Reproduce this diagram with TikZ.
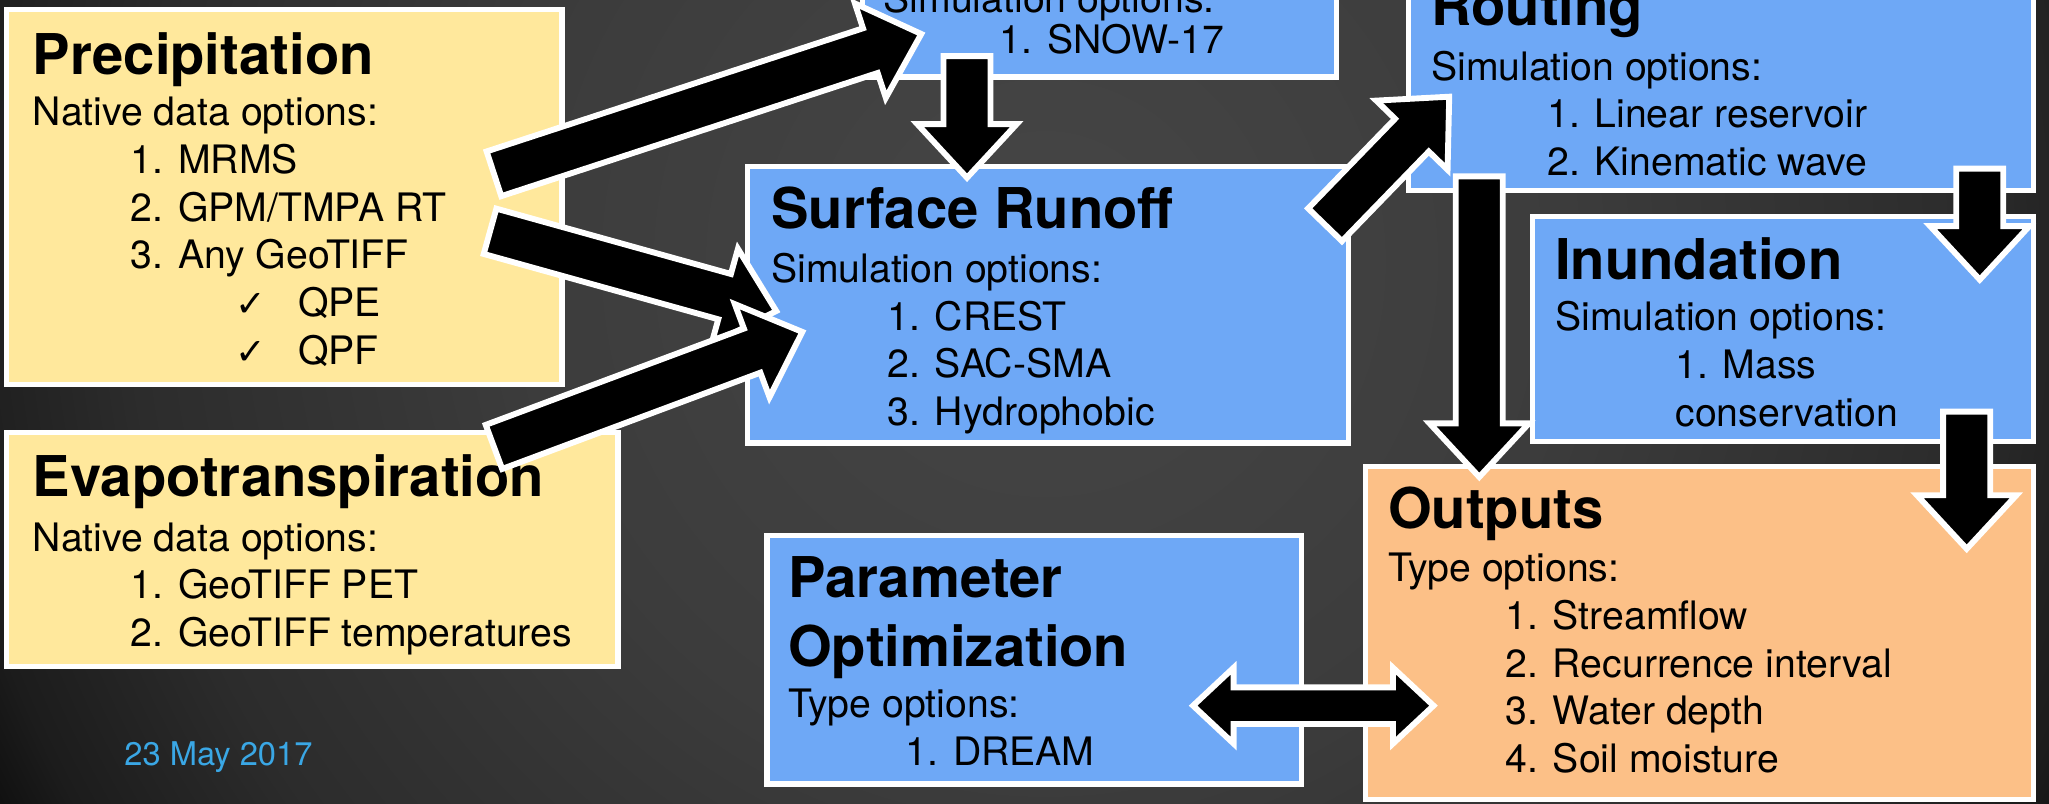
\documentclass[tikz,border=0pt]{standalone}
\usepackage{fontspec}
\setmainfont{TeX Gyre Heros}
\newfontfamily\checkfont{DejaVu Sans}
\usetikzlibrary{calc}

\definecolor{boxyellow}{HTML}{FFE89C}
\definecolor{boxblue}{HTML}{6EA8F6}
\definecolor{boxorange}{HTML}{FCC087}
\definecolor{datecol}{HTML}{3AA7E5}
\definecolor{bgin}{HTML}{464646}
\definecolor{bgmid}{HTML}{3C3C3C}
\definecolor{bgout}{HTML}{2C2C2C}
\definecolor{bgdark}{HTML}{1C1C1C}
\definecolor{bgedge}{HTML}{060606}

%% glow behind the boxes (the middle 25bp is what gets fitted to the path)
\pgfdeclareradialshading{bgglow}{\pgfpointorigin}{%
  color(0bp)=(bgin); color(10bp)=(bgmid); color(17.5bp)=(bgout);
  color(21.25bp)=(bgdark); color(23.75bp)=(bgedge); color(25bp)=(black);
  color(50bp)=(black)}

%% block arrow sizes
\newcommand*\shaftw{18pt}
\newcommand*\headw{38pt}
\newcommand*\headl{41pt}
\newcommand*\dshaftw{14pt}
\newcommand*\dheadw{29pt}
\newcommand*\dheadl{31pt}

\newcommand\ttl[1]{{\fontsize{43}{50}\selectfont\bfseries #1}}
\newcommand\chk{\makebox[48pt][l]{\checkfont\fontsize{28}{28}\selectfont ✓}}

\tikzset{
  box/.style={draw=white, line width=4pt, inner sep=0pt, outer sep=0pt,
    anchor=north west},
  ybox/.style={box, fill=boxyellow},
  bbox/.style={box, fill=boxblue},
  obox/.style={box, fill=boxorange},
  boxtext/.style={anchor=north west, inner sep=0pt, align=left,
    font=\fontsize{30}{36.5}\selectfont},
  fatarrow/.style={draw=white, line width=4.5pt, fill=black,
    to path={
      ($(\tikztostart)!\shaftw!90:(\tikztotarget)$)
      -- ($(\tikztotarget)!\headl!(\tikztostart)!\shaftw!-90:(\tikztostart)$)
      -- ($(\tikztotarget)!\headl!(\tikztostart)!\headw!-90:(\tikztostart)$)
      -- (\tikztotarget)
      -- ($(\tikztotarget)!\headl!(\tikztostart)!\headw!90:(\tikztostart)$)
      -- ($(\tikztotarget)!\headl!(\tikztostart)!\shaftw!90:(\tikztostart)$)
      -- ($(\tikztostart)!\shaftw!-90:(\tikztotarget)$) -- cycle}},
  fatdarrow/.style={draw=white, line width=4.5pt, fill=black,
    to path={
      (\tikztostart)
      -- ($(\tikztostart)!\dheadl!(\tikztotarget)!\dheadw!90:(\tikztotarget)$)
      -- ($(\tikztostart)!\dheadl!(\tikztotarget)!\dshaftw!90:(\tikztotarget)$)
      -- ($(\tikztotarget)!\dheadl!(\tikztostart)!\dshaftw!-90:(\tikztostart)$)
      -- ($(\tikztotarget)!\dheadl!(\tikztostart)!\dheadw!-90:(\tikztostart)$)
      -- (\tikztotarget)
      -- ($(\tikztotarget)!\dheadl!(\tikztostart)!\dheadw!90:(\tikztostart)$)
      -- ($(\tikztotarget)!\dheadl!(\tikztostart)!\dshaftw!90:(\tikztostart)$)
      -- ($(\tikztostart)!\dheadl!(\tikztotarget)!\dshaftw!-90:(\tikztotarget)$)
      -- ($(\tikztostart)!\dheadl!(\tikztotarget)!\dheadw!-90:(\tikztotarget)$)
      -- cycle}}
}

\begin{document}
\begin{tikzpicture}[x=1pt,y=-1pt]
  \useasboundingbox (0,0) rectangle (1568,615);

  %% background
  \begin{scope}
    \clip (0,0) rectangle (1568,615);
    \fill[black] (0,0) rectangle (1568,615);
    \shade[shading=bgglow] (800,200) circle (1000);
  \end{scope}

  %% boxes
  \node[ybox, minimum width=425pt, minimum height=287pt] (precip) at (5,7) {};
  \node[ybox, minimum width=468pt, minimum height=179pt] (evap) at (5,331) {};
  \node[bbox, minimum width=363pt, minimum height=119pt] (snow) at (660,-60) {};
  \node[bbox, minimum width=460pt, minimum height=211.5pt] (runoff) at (572,127.5) {};
  \node[bbox, minimum width=478pt, minimum height=206pt] (routing) at (1078,-60) {};
  \node[bbox, minimum width=383pt, minimum height=172.5pt] (inund) at (1173,165.5) {};
  \node[obox, minimum width=511pt, minimum height=255pt] (outputs) at (1045,357) {};
  \node[bbox, minimum width=409pt, minimum height=190pt] (param) at (587,410) {};

  %% box texts
  \node[boxtext] (precip-txt) at (25,21) {\rule{0pt}{36pt}\ttl{Precipitation}\\[2.5pt]
    Native data options:\\
    \hspace*{75pt}1. MRMS\\
    \hspace*{75pt}2. GPM/TMPA RT\\
    \hspace*{75pt}3. Any GeoTIFF\\
    \hspace*{155pt}\chk QPE\\
    \hspace*{155pt}\chk QPF};
  \node[boxtext] (evap-txt) at (25,344) {\rule{0pt}{36pt}\ttl{Evapotranspiration}\\[5pt]
    Native data options:\\
    \hspace*{75pt}1. GeoTIFF PET\\
    \hspace*{75pt}2. GeoTIFF temperatures};
  \node[boxtext] (snow-txt) at (676,-15) {\rule{0pt}{24pt}Simulation options:\\[-5pt]
    \hspace*{89pt}1. SNOW-17};
  \node[boxtext] (runoff-txt) at (590,138.5) {\rule{0pt}{36pt}\ttl{Surface Runoff}\\[5pt]
    Simulation options:\\
    \hspace*{89pt}1. CREST\\
    \hspace*{89pt}2. SAC-SMA\\
    \hspace*{89pt}3. Hydrophobic};
  \node[boxtext] (routing-txt) at (1095,-16.4) {\rule{0pt}{36pt}\ttl{Routing}\\[5pt]
    Simulation options:\\
    \hspace*{89pt}1. Linear reservoir\\
    \hspace*{89pt}2. Kinematic wave};
  \node[boxtext] (inund-txt) at (1190,178) {\rule{0pt}{36pt}\ttl{Inundation}\\[2.5pt]
    Simulation options:\\
    \hspace*{92pt}1. Mass\\
    \hspace*{92pt}conservation};
  \node[boxtext] (outputs-txt) at (1062,368) {\rule{0pt}{36pt}\ttl{Outputs}\\[4.5pt]
    Type options:\\
    \hspace*{90pt}1. Streamflow\\
    \hspace*{90pt}2. Recurrence interval\\
    \hspace*{90pt}3. Water depth\\
    \hspace*{90pt}4. Soil moisture};
  \node[boxtext] (param-txt) at (603,421) {\rule{0pt}{36pt}\ttl{Parameter}\\[16.5pt]
    \ttl{Optimization}\\[2.5pt]
    Type options:\\
    \hspace*{90pt}1. DREAM};

  %% arrow ends
  \coordinate (a1t) at (378,133);  \coordinate (a1h) at (705,26);
  \coordinate (a2t) at (375,177);  \coordinate (a2h) at (594,238);
  \coordinate (a3t) at (378,342);  \coordinate (a3h) at (614,254);
  \coordinate (a4t) at (740,43);   \coordinate (a4h) at (740,136);
  \coordinate (a5t) at (1014,172); \coordinate (a5h) at (1109,74);
  \coordinate (a6t) at (1132,135); \coordinate (a6h) at (1132,365);
  \coordinate (a7t) at (1515,129); \coordinate (a7h) at (1515,214);
  \coordinate (a8t) at (1505,315); \coordinate (a8h) at (1505,420);
  \coordinate (a9l) at (913,540);  \coordinate (a9r) at (1097,540);

  %% block arrows
  \draw[fatarrow] (a1t) to (a1h);
  \draw[fatarrow] (a2t) to (a2h);
  \draw[fatarrow] (a3t) to (a3h);
  \draw[fatarrow] (a4t) to (a4h);
  \draw[fatarrow] (a5t) to (a5h);
  \draw[fatarrow] (a6t) to (a6h);
  \draw[fatarrow] (a7t) to (a7h);
  \draw[fatarrow] (a8t) to (a8h);
  \draw[fatdarrow] (a9l) to (a9r);

  %% date
  \node[anchor=base west, inner sep=0pt, text=datecol,
    font=\fontsize{25}{30}\selectfont] (date) at (95,586) {23 May 2017};
\end{tikzpicture}
\end{document}
